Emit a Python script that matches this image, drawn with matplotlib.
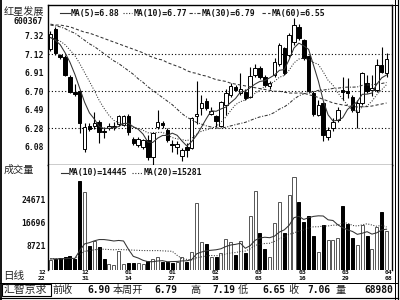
import numpy as np
import pandas as pd
import matplotlib
matplotlib.use("Agg")
import matplotlib.pyplot as plt
from matplotlib.lines import Line2D
from matplotlib.patches import Rectangle
import matplotlib.transforms as mtransforms

# ---------------- data ----------------
stock_name = "红星发展"
stock_code = "600367"
period_label = "日线"
volume_label = "成交量"
broker_label = "汇智京求"

opens  = [7.17, 7.40, 7.10, 7.08, 6.86, 6.69, 6.70, 6.06, 6.31, 6.31,
          6.36, 6.26, 6.29, 6.30, 6.33, 6.32, 6.42, 6.17, 6.10, 6.08,
          6.16, 5.97, 6.30, 6.34, 6.27, 6.11, 6.08, 5.98, 6.08, 6.07,
          6.42, 6.51, 6.59, 6.45, 6.42, 6.31, 6.55, 6.66, 6.75, 6.68,
          6.69, 6.64, 6.88, 6.96, 6.86, 6.76, 6.88, 7.00, 7.18, 7.10,
          7.25, 7.42, 7.27, 7.09, 6.68, 6.44, 6.57, 6.19, 6.29, 6.38,
          6.71, 6.70, 6.64, 6.47, 6.57, 6.79, 6.71, 6.71, 6.99, 6.90]
highs  = [7.37, 7.42, 7.12, 7.11, 6.88, 6.78, 6.71, 6.34, 6.34, 6.47,
          6.38, 6.30, 6.34, 6.36, 6.44, 6.43, 6.45, 6.19, 6.19, 6.17,
          6.21, 6.24, 6.49, 6.37, 6.29, 6.15, 6.14, 6.07, 6.12, 6.41,
          6.81, 6.66, 6.62, 6.52, 6.44, 6.59, 6.72, 6.79, 6.77, 6.90,
          6.72, 6.97, 7.00, 6.98, 6.88, 6.81, 7.07, 7.24, 7.20, 7.35,
          7.52, 7.45, 7.28, 7.10, 6.70, 6.60, 6.58, 6.30, 6.40, 6.52,
          6.86, 6.85, 6.66, 6.60, 6.92, 6.88, 6.88, 7.06, 7.19, 7.13]
lows   = [7.15, 7.11, 7.06, 6.87, 6.68, 6.65, 6.23, 6.02, 6.26, 6.28,
          6.12, 6.18, 6.27, 6.27, 6.31, 6.31, 6.21, 6.10, 6.08, 6.06,
          5.93, 5.88, 6.28, 6.29, 6.13, 6.02, 6.00, 5.92, 5.96, 6.05,
          6.33, 6.44, 6.49, 6.43, 6.30, 6.30, 6.44, 6.64, 6.70, 6.66,
          6.60, 6.62, 6.86, 6.84, 6.75, 6.73, 6.86, 6.98, 6.88, 7.08,
          7.22, 7.27, 7.05, 6.68, 6.42, 6.42, 6.14, 6.15, 6.26, 6.36,
          6.60, 6.62, 6.47, 6.29, 6.55, 6.68, 6.65, 6.69, 6.90, 6.86]
closes = [7.34, 7.13, 7.08, 6.88, 6.69, 6.67, 6.35, 6.30, 6.28, 6.35,
          6.25, 6.24, 6.31, 6.31, 6.42, 6.42, 6.25, 6.12, 6.17, 6.15,
          5.97, 6.23, 6.36, 6.32, 6.15, 6.10, 6.11, 6.04, 6.04, 6.40,
          6.45, 6.57, 6.51, 6.48, 6.37, 6.58, 6.68, 6.76, 6.71, 6.73,
          6.63, 6.87, 6.96, 6.86, 6.77, 6.79, 7.03, 7.22, 6.90, 7.33,
          7.44, 7.30, 7.07, 6.70, 6.45, 6.55, 6.21, 6.27, 6.36, 6.49,
          6.69, 6.68, 6.49, 6.57, 6.90, 6.70, 6.74, 6.99, 6.92, 7.06]
volumes = [3550, 3900, 4150, 4700, 4930, 3900, 31450, 27580, 8480, 10350,
           8000, 3900, 2000, 1800, 6830, 2000, 2500, 2600, 2600, 2200,
           3300, 3750, 4450, 3000, 3000, 2600, 3000, 4450, 3000, 6500,
           23500, 10000, 9080, 4700, 4700, 6100, 10900, 9800, 5300, 10350,
           5900, 19000, 27950, 12900, 7400, 4500, 16450, 24070, 12950, 26540,
           32640, 23840, 16920, 19030, 12000, 6480, 15860, 10600, 10600, 11180,
           22670, 16200, 11400, 8830, 15860, 12000, 7300, 15270, 20600, 13750]

ma5_lead  = [7.30, 7.27, 7.22, 7.13]
ma10_lead = [7.30, 7.28, 7.26, 7.22, 7.16, 7.10, 7.01, 6.91, 6.81]
ma30_lead = [7.44, 7.43, 7.42, 7.40, 7.37, 7.35, 7.31, 7.27, 7.23, 7.20,
             7.16, 7.12, 7.08, 7.04, 7.01, 6.97, 6.93, 6.89, 6.84, 6.80,
             6.75, 6.71, 6.67, 6.63, 6.59, 6.55, 6.50, 6.45, 6.41]
ma60_lead = [7.45, 7.44, 7.44, 7.43, 7.42, 7.40, 7.38, 7.36, 7.35, 7.33,
             7.31, 7.29, 7.27, 7.25, 7.23, 7.21, 7.19, 7.17, 7.15, 7.13,
             7.10, 7.08, 7.06, 7.05, 7.02, 7.00, 6.98, 6.96, 6.93, 6.91,
             6.90, 6.88, 6.87, 6.85, 6.83, 6.82, 6.81, 6.79, 6.78, 6.77,
             6.76, 6.75, 6.74, 6.73, 6.72, 6.71, 6.70, 6.70, 6.69, 6.68,
             6.68, 6.68, 6.68, 6.66, 6.65, 6.63, 6.61, 6.59, 6.57]
vma10_lead = [3955, 3945, 3960, 4030, 4123, 4113, 6858, 9216, 9664]
vma20_lead = [3978, 3973, 3980, 4015, 4062, 4057, 5429, 6608, 6832, 7150,
              7350, 7345, 7245, 7135, 7276, 7176, 7101, 7031, 6961]

ma_periods = [5, 10, 30, 60]
ma_legend_values = ["6.88", "6.77", "6.79", "6.55"]
vma_periods = [10, 20]
vma_legend_values = ["14445", "15281"]

price_tick_labels = ["6.08", "6.28", "6.49", "6.70", "6.91", "7.12", "7.32"]
price_tick_lo, price_tick_hi = 6.08, 7.32
vol_ticks = [8721, 16696, 24671]
date_labels = [("12", "22"), ("12", "31"), ("01", "14"), ("01", "27"), ("02", "18"),
               ("03", "03"), ("03", "16"), ("03", "29"), ("04", "08")]

info_names  = ["前收", "本周开", "高", "低", "收", "量"]
info_values = ["6.90", "6.79", "7.19", "6.65", "7.06", "68980"]

# ---------------- layout ----------------
W, H = 400, 300
fig = plt.figure(figsize=(4, 3), dpi=100)
fig.patch.set_facecolor("white")


def fx(x):
    return x / W


def fy(y):
    return 1 - y / H


PX = 0.72  # points per pixel
MONO = "DejaVu Sans Mono"
CJK = ["Noto Sans CJK SC", "DejaVu Sans"]
INK = "#111111"

L, R = 48, 392
PT, PB = 5, 165
VT, VB = 165, 270.1
ax_p = fig.add_axes([fx(L), fy(PB), (R - L) / W, (PB - PT) / H])
ax_v = fig.add_axes([fx(L), fy(VB), (R - L) / W, (VB - VT) / H])

n = len(closes)
x = np.arange(n)
XLIM = (-0.51, 70.12)

o = np.array(opens, float)
c = np.array(closes, float)
h = np.array(highs, float)
l = np.array(lows, float)
v = np.array(volumes, float)
up = c >= o
top = np.maximum(o, c)
bot = np.minimum(o, c)


def moving(vals, per, lead):
    s = pd.Series(vals, dtype=float).rolling(per).mean().to_numpy()
    s[:len(lead)] = lead
    return s


mas = [moving(c, p, ld) for p, ld in zip(ma_periods, [ma5_lead, ma10_lead, ma30_lead, ma60_lead])]
vmas = [moving(v, p, ld) for p, ld in zip(vma_periods, [vma10_lead, vma20_lead])]

ma_styles = ["-", (0, (1, 1.5)), (0, (3, 1.5, 1, 1.5)), (0, (3, 2))]
vma_styles = ["-", (0, (1, 1.5))]

# ---- price panel ----
ax_p.set_xlim(*XLIM)
ax_p.set_ylim(5.876, 7.664)
yt = np.linspace(price_tick_lo, price_tick_hi, len(price_tick_labels))
for k in (1, 3, 5):
    ax_p.axhline(yt[k], color="black", lw=0.8, ls=(0, (1, 2)), zorder=1)
ax_p.vlines(x, top, h, color="black", lw=0.8, zorder=2)
ax_p.vlines(x, l, bot, color="black", lw=0.8, zorder=2)
ax_p.bar(x, np.maximum(top - bot, 0.006), bottom=bot, width=0.72,
         color=np.where(up, "white", "black"), edgecolor="black", lw=0.7, zorder=3)
for m, st in zip(mas, ma_styles):
    ax_p.plot(x, m, color="#333333", lw=0.75, ls=st, zorder=4)
ax_p.set_yticks(yt)
ax_p.set_yticklabels(price_tick_labels, fontfamily=MONO, fontsize=5.8, fontweight="bold", color=INK)
ax_p.set_xticks([])
ax_p.tick_params(length=0, pad=3.2)
for sp in ax_p.spines.values():
    sp.set_color("black")
    sp.set_linewidth(1.0)

# ---- volume panel ----
ax_v.set_xlim(*XLIM)
ax_v.set_ylim(0, (VB - VT) * 351.8)
ax_v.bar(x, v, width=0.62, color=np.where(up, "white", "black"),
         edgecolor=np.where(up, "#555555", "black"), lw=0.7, zorder=2)
for m, st in zip(vmas, vma_styles):
    ax_v.plot(x, m, color="#333333", lw=0.75, ls=st, zorder=4)
ax_v.set_yticks(vol_ticks)
ax_v.set_yticklabels([str(t) for t in vol_ticks], fontfamily=MONO, fontsize=5.8, fontweight="bold", color=INK)
ax_v.set_xticks([])
ax_v.tick_params(length=0, pad=1.6)
ax_v.spines["top"].set_visible(False)
ax_v.spines["bottom"].set_visible(False)
for s in ("left", "right"):
    ax_v.spines[s].set_color("black")
    ax_v.spines[s].set_linewidth(1.0)


# ---- frame lines ----
def hline(y, x0, x1, lw=1.0):
    fig.add_artist(Line2D([fx(x0), fx(x1)], [fy(y), fy(y)], transform=fig.transFigure,
                          color="black", lw=lw * PX))


def vline(xp, y0, y1, lw=1.0):
    fig.add_artist(Line2D([fx(xp), fx(xp)], [fy(y0), fy(y1)], transform=fig.transFigure,
                          color="black", lw=lw * PX))


vline(0.9, 0, 300, 1.8)
hline(5, 48, 398)
vline(395, 0, 300, 1.0)
vline(398.3, 0, 300, 1.2)
hline(282.7, 0, 398)
hline(297.5, 0, 398, 1.2)
fig.add_artist(Rectangle((fx(1.5), fy(296)), 49 / W, 12 / H, transform=fig.transFigure,
                         fill=False, edgecolor="black", lw=0.8))

# ---- legends ----
def legend_item(x0, x1, y, style, text, tx):
    fig.add_artist(Line2D([fx(x0), fx(x1)], [fy(y), fy(y)], transform=fig.transFigure,
                          color="#333333", lw=0.8, ls=style))
    fig.text(fx(tx), fy(y), text, fontfamily=MONO, fontsize=5.9, fontweight="bold",
             color=INK, va="center", ha="left")


ma_leg_pos = [(60, 70, 71), (123, 132, 133.3), (189, 200, 201.5), (262, 270, 271.5)]
for (x0, x1, tx), p, val, st in zip(ma_leg_pos, ma_periods, ma_legend_values, ma_styles):
    legend_item(x0, x1, 13.3, st, f"MA({p})={val}", tx)

vma_leg_pos = [(61, 67.5, 68.3), (132, 142, 143.3)]
for (x0, x1, tx), p, val, st in zip(vma_leg_pos, vma_periods, vma_legend_values, vma_styles):
    legend_item(x0, x1, 172.7, st, f"MA({p})={val}", tx)

# ---- left column texts ----
fig.text(fx(4), fy(11.5), stock_name, fontfamily=CJK, fontsize=7.3, color="#222222", va="center", ha="left")
fig.text(fx(42.5), fy(21.5), stock_code, fontfamily=MONO, fontsize=5.9, fontweight="bold", color=INK,
         va="center", ha="right")
fig.text(fx(4), fy(169.5), volume_label, fontfamily=CJK, fontsize=7.3, color="#222222", va="center", ha="left")
fig.text(fx(3), fy(275.5), period_label, fontfamily=CJK, fontsize=7.6, color="#222222", va="center", ha="left")

# ---- date labels ----
bt = mtransforms.blended_transform_factory(ax_v.transData, fig.transFigure)
first_label_idx, label_step = -1.75, 8.9
for k, (mm, dd) in enumerate(date_labels):
    xi = first_label_idx + k * label_step
    ax_v.text(xi, fy(272.6), mm, transform=bt, fontfamily=MONO, fontsize=4.6, fontweight="bold",
              color=INK, ha="center", va="center", clip_on=False)
    ax_v.text(xi, fy(278.6), dd, transform=bt, fontfamily=MONO, fontsize=4.6, fontweight="bold",
              color=INK, ha="center", va="center", clip_on=False)

# ---- info bar ----
YI = 290
fig.text(fx(25.5), fy(YI), broker_label, fontfamily=CJK, fontsize=7.8, color="#222222", va="center", ha="center")
name_x = [52, 113, 190, 238, 288, 335]
value_right = [110, 177, 235, 285, 330, 393]
for nm, nx, val, vx in zip(info_names, name_x, info_values, value_right):
    fig.text(fx(nx), fy(YI), nm, fontfamily=CJK, fontsize=7.3, color="#222222", va="center", ha="left")
    fig.text(fx(vx), fy(YI), val, fontfamily=MONO, fontsize=6.9, fontweight="bold", color=INK,
             va="center", ha="right")

fig.savefig("out.png", dpi=100, facecolor="white")
